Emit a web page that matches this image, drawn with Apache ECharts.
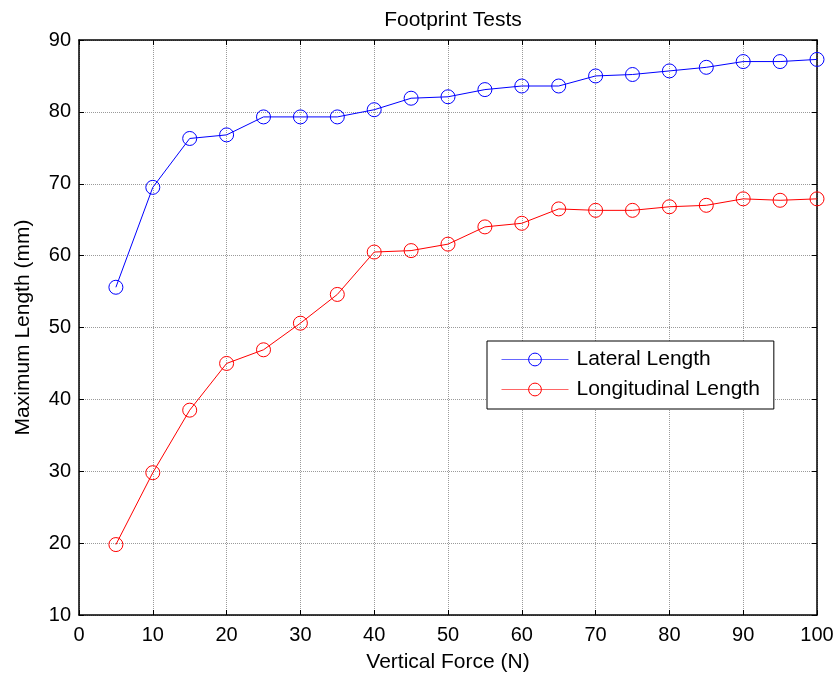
<!DOCTYPE html>
<html>
<head>
<meta charset="utf-8">
<script src="https://cdn.jsdelivr.net/npm/echarts@6/dist/echarts.min.js"></script>
<style>
  html, body { margin: 0; padding: 0; background: #fff; }
  #chart { width: 837px; height: 679px; }
</style>
</head>
<body>
<div id="chart"></div>
<script>
  // data
  const force = [5, 10, 15, 20, 25, 30, 35, 40, 45, 50, 55, 60, 65, 70, 75, 80, 85, 90, 95, 100]
  const lateral = [55.6, 69.5, 76.3, 76.8, 79.3, 79.3, 79.3, 80.3, 81.9, 82.1, 83.1, 83.6, 83.6, 85.0, 85.2, 85.7, 86.2, 87.0, 87.0, 87.3]
  const longitudinal = [19.8, 29.8, 38.5, 45.0, 46.9, 50.6, 54.6, 60.5, 60.7, 61.6, 64.0, 64.5, 66.5, 66.3, 66.3, 66.8, 67.0, 67.9, 67.7, 67.9]
  const seriesNames = ['Lateral Length', 'Longitudinal Length']
  const seriesColors = ['#0000ff', '#ff0000']

  const font = 'Liberation Sans, Arial, sans-serif'

  const pair = (ys) => force.map((x, i) => [x, ys[i]])

  // matlab style: thin open circles, line shows through them
  const lineSeries = (name, color, ys) => ({
    name: name,
    type: 'line',
    data: pair(ys),
    symbol: 'circle',
    symbolSize: 14,
    color: color,
    lineStyle: { width: 1, color: color },
    itemStyle: { color: 'rgba(255,255,255,0)', borderColor: color, borderWidth: 1 },
    emphasis: { disabled: true },
  })

  const frameAxis = {
    axisLine: { show: true, onZero: false, lineStyle: { color: '#000', width: 1.5 } },
    axisTick: { show: true, inside: true, length: 5, lineStyle: { color: '#000' } },
  }

  const gridLine = { show: true, lineStyle: { color: '#9a9a9a', type: [1, 1], width: 1 } }

  const chart = echarts.init(document.getElementById('chart'))
  chart.setOption({
    animation: false,
    backgroundColor: '#fff',
    textStyle: { fontFamily: font },
    title: {
      text: 'Footprint Tests',
      left: 448,
      textAlign: 'center',
      top: 5,
      textStyle: { fontFamily: font, fontSize: 21, fontWeight: 'normal', color: '#000' },
    },
    grid: { left: 79, right: 20, top: 40, bottom: 64, containLabel: false },
    legend: {
      data: seriesNames.map((n, i) => ({
        name: n,
        itemStyle: { color: 'rgba(255,255,255,0)', borderColor: seriesColors[i], borderWidth: 1 },
        lineStyle: { width: 1, color: seriesColors[i], opacity: 0.6 },
      })),
      orient: 'vertical',
      left: 487,
      top: 341,
      padding: [8, 14, 9, 14],
      itemWidth: 67,
      itemHeight: 16,
      itemGap: 9,
      backgroundColor: '#fff',
      borderColor: '#000',
      borderWidth: 1,
      selectedMode: false,
      textStyle: { fontFamily: font, fontSize: 21, color: '#000', padding: [0, 0, 0, 3] },
    },
    xAxis: [
      {
        type: 'value',
        min: 0,
        max: 100,
        interval: 10,
        position: 'bottom',
        name: 'Vertical Force (N)',
        nameLocation: 'middle',
        nameGap: 37,
        nameTextStyle: { fontFamily: font, fontSize: 21, color: '#000' },
        ...frameAxis,
        axisLabel: { fontFamily: font, fontSize: 20, color: '#000', margin: 10 },
        splitLine: gridLine,
      },
      {
        type: 'value',
        min: 0,
        max: 100,
        interval: 10,
        position: 'top',
        ...frameAxis,
        axisLabel: { show: false },
        splitLine: { show: false },
      },
    ],
    yAxis: [
      {
        type: 'value',
        min: 10,
        max: 90,
        interval: 10,
        position: 'left',
        name: 'Maximum Length (mm)',
        nameLocation: 'middle',
        nameGap: 45,
        nameTextStyle: { fontFamily: font, fontSize: 21, color: '#000' },
        ...frameAxis,
        axisLabel: { fontFamily: font, fontSize: 20, color: '#000', margin: 8 },
        splitLine: gridLine,
      },
      {
        type: 'value',
        min: 10,
        max: 90,
        interval: 10,
        position: 'right',
        ...frameAxis,
        axisLabel: { show: false },
        splitLine: { show: false },
      },
    ],
    series: [
      lineSeries(seriesNames[0], seriesColors[0], lateral),
      lineSeries(seriesNames[1], seriesColors[1], longitudinal),
    ],
  })
</script>
</body>
</html>
